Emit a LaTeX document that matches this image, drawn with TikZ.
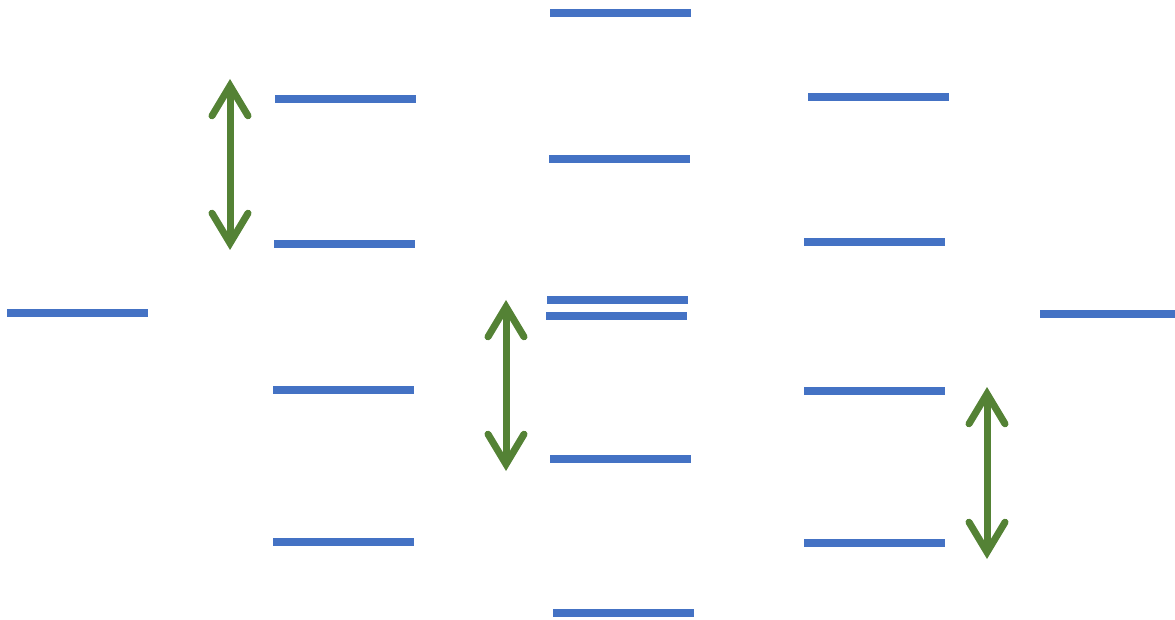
\documentclass[tikz,border=0pt]{standalone}
\usetikzlibrary{arrows.meta}
\definecolor{levelblue}{HTML}{4472C4}
\definecolor{transgreen}{HTML}{548235}
\tikzset{
  level/.style={draw=levelblue, line width=8.5pt},
  barbtip/.tip={Straight Barb[length=30pt, width=36pt, line cap=round, line join=miter]},
  transition/.style={draw=transgreen, line width=7pt, barbtip-barbtip}
}
\begin{document}
\begin{tikzpicture}[x=1pt, y=-1pt]
  \useasboundingbox (0,0) rectangle (1175,620);
  % energy levels, column by column
  \draw[level] (7,313) -- (148,313);
  \draw[level] (275,99) -- (416,99);
  \draw[level] (274,244) -- (415,244);
  \draw[level] (273,390) -- (414,390);
  \draw[level] (273,542) -- (414,542);
  \draw[level] (550,13) -- (691,13);
  \draw[level] (549,159) -- (690,159);
  \draw[level] (547,300) -- (688,300);
  \draw[level] (546,316) -- (687,316);
  \draw[level] (550,459) -- (691,459);
  \draw[level] (553,613) -- (694,613);
  \draw[level] (808,97) -- (949,97);
  \draw[level] (804,242) -- (945,242);
  \draw[level] (804,391) -- (945,391);
  \draw[level] (804,543) -- (945,543);
  \draw[level] (1040,314) -- (1175,314);
  % transition end points
  \coordinate (t1a) at (230,79);
  \coordinate (t1b) at (230,250);
  \coordinate (t2a) at (506,300);
  \coordinate (t2b) at (506,471);
  \coordinate (t3a) at (987,387);
  \coordinate (t3b) at (987,559);
  % transitions
  \draw[transition] (t1a) -- (t1b);
  \draw[transition] (t2a) -- (t2b);
  \draw[transition] (t3a) -- (t3b);
\end{tikzpicture}
\end{document}
